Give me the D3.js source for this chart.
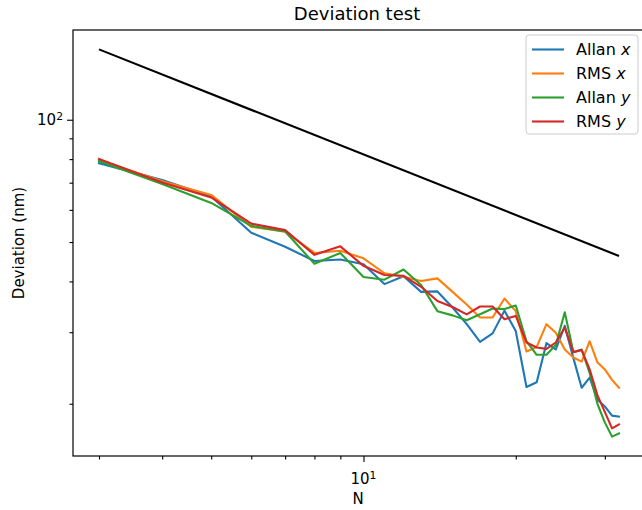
<!DOCTYPE html>
<html>
<head>
<meta charset="utf-8">
<script src="https://cdn.jsdelivr.net/npm/d3@7"></script>
<style>
  body { margin: 0; background: #fff; }
  svg { display: block; font-family: "DejaVu Sans", sans-serif; }
</style>
</head>
<body>
<div id="chart"></div>
<script>
// window sizes
var W = 642, H = 510;
var margin = {left: 73, right: 645, top: 30, bottom: 456};

// data
var nValues = [3, 4, 5, 6, 7, 8, 9, 10, 11, 12, 13, 14, 15, 16, 17, 18, 19, 20, 21, 22, 23, 24, 25, 26, 27, 28, 29, 30, 31, 32];
var allanX = [78.2, 71.1, 64.7, 52.7, 48.7, 44.9, 45.3, 44.1, 39.4, 41.2, 37.7, 37.8, 34.5, 31.4, 28.4, 29.8, 33.9, 30.2, 22.0, 22.6, 28.2, 27.2, 31.1, 25.9, 21.9, 23.2, 20.5, 19.7, 18.7, 18.6];
var rmsX = [79.6, 70.6, 65.3, 54.5, 53.0, 47.0, 47.6, 45.6, 41.9, 41.1, 40.1, 40.7, 37.7, 35.1, 32.6, 32.6, 36.3, 33.8, 26.9, 27.6, 31.4, 29.9, 27.2, 26.0, 25.4, 28.5, 25.3, 24.3, 22.9, 21.9];
var allanY = [79.1, 69.5, 62.4, 54.8, 53.1, 44.2, 47.0, 41.0, 40.4, 42.8, 39.2, 33.8, 33.0, 32.1, 33.2, 34.3, 34.2, 34.9, 28.5, 26.4, 26.4, 27.9, 33.6, 26.8, 27.2, 23.8, 20.0, 18.0, 16.6, 16.9];
var rmsY = [80.1, 70.1, 64.4, 55.5, 53.5, 46.5, 48.8, 43.7, 41.5, 41.3, 38.8, 35.8, 34.6, 33.2, 34.7, 34.7, 32.3, 32.9, 28.3, 27.5, 27.3, 28.3, 30.8, 26.8, 27.1, 24.3, 21.0, 19.1, 17.4, 17.8];
// reference slope line, end points only
var refN = [3, 32];
var refDev = [149, 46.2];

var seriesNames = ["Allan", "RMS", "Allan", "RMS"];
var seriesVars = ["x", "x", "y", "y"];
var seriesColors = ["#1f77b4", "#ff7f0e", "#2ca02c", "#d62728"];
var seriesValues = [allanX, rmsX, allanY, rmsY];

var xMajor = [10];
var xMinor = [3, 4, 5, 6, 7, 8, 9, 20, 30];
var yMajor = [100];
var yMinor = [20, 30, 40, 50, 60, 70, 80, 90];

// log domain with 5% padding like matplotlib
function logPad(lo, hi) {
    var a = Math.log10(lo), b = Math.log10(hi), p = (b - a) * 0.05;
    return [Math.pow(10, a - p), Math.pow(10, b + p)];
}
var allY = d3.merge(seriesValues).concat(refDev);

var x = d3.scaleLog()
    .domain(logPad(d3.min(nValues), d3.max(nValues)))
    .range([margin.left, margin.right]);
var y = d3.scaleLog()
    .domain(logPad(d3.min(allY), d3.max(allY)))
    .range([margin.bottom, margin.top]);

var svg = d3.select("#chart").append("svg")
    .attr("width", W)
    .attr("height", H);

svg.append("rect").attr("width", W).attr("height", H).attr("fill", "#fff");

var line = d3.line()
    .x(function(d) { return x(d[0]); })
    .y(function(d) { return y(d[1]); });

var plot = svg.append("g");

seriesValues.forEach(function(vals, i) {
    plot.append("path")
        .datum(nValues.map(function(n, j) { return [n, vals[j]]; }))
        .attr("d", line)
        .attr("fill", "none")
        .attr("stroke", seriesColors[i])
        .attr("stroke-width", 2.1)
        .attr("stroke-linejoin", "round")
        .attr("stroke-linecap", "square");
});

plot.append("path")
    .datum(refN.map(function(n, j) { return [n, refDev[j]]; }))
    .attr("d", line)
    .attr("fill", "none")
    .attr("stroke", "#000")
    .attr("stroke-width", 2.1);

// axes
function supLabel(sel, base, exp) {
    sel.text(null);
    sel.append("tspan").text(base);
    sel.append("tspan").attr("dy", "-0.45em").attr("font-size", "0.72em").text(exp);
}

var xAxisMajor = d3.axisBottom(x).tickValues(xMajor).tickSize(6).tickPadding(6).tickFormat(function() { return ""; });
var xAxisMinor = d3.axisBottom(x).tickValues(xMinor).tickSize(3.5).tickFormat(function() { return ""; });
var yAxisMajor = d3.axisLeft(y).tickValues(yMajor).tickSize(6).tickPadding(5).tickFormat(function() { return ""; });
var yAxisMinor = d3.axisLeft(y).tickValues(yMinor).tickSize(3.5).tickFormat(function() { return ""; });

[xAxisMinor, xAxisMajor].forEach(function(ax) {
    svg.append("g").attr("transform", "translate(0," + margin.bottom + ")").call(ax)
        .call(function(g) { g.select(".domain").remove(); })
        .selectAll("line").attr("stroke", "#000").attr("stroke-width", 1.1);
});
[yAxisMinor, yAxisMajor].forEach(function(ax) {
    svg.append("g").attr("transform", "translate(" + margin.left + ",0)").call(ax)
        .call(function(g) { g.select(".domain").remove(); })
        .selectAll("line").attr("stroke", "#000").attr("stroke-width", 1.1);
});

// tick labels as 10^n
xMajor.forEach(function(v) {
    svg.append("text")
        .attr("x", x(v)).attr("y", margin.bottom + 28)
        .attr("text-anchor", "middle")
        .attr("font-size", 15)
        .call(supLabel, "10", String(Math.round(Math.log10(v))));
});
yMajor.forEach(function(v) {
    svg.append("text")
        .attr("x", margin.left - 10).attr("y", y(v) + 5)
        .attr("text-anchor", "end")
        .attr("font-size", 15)
        .call(supLabel, "10", String(Math.round(Math.log10(v))));
});

// frame
svg.append("rect")
    .attr("x", margin.left).attr("y", margin.top)
    .attr("width", margin.right - margin.left)
    .attr("height", margin.bottom - margin.top)
    .attr("fill", "none")
    .attr("stroke", "#000")
    .attr("stroke-width", 1.2);

// titles
svg.append("text")
    .attr("x", 357).attr("y", 20)
    .attr("text-anchor", "middle")
    .attr("font-size", 18)
    .text("Deviation test");

svg.append("text")
    .attr("x", 358).attr("y", 504)
    .attr("text-anchor", "middle")
    .attr("font-size", 15)
    .text("N");

svg.append("text")
    .attr("transform", "translate(24," + (margin.top + margin.bottom) / 2 + ")rotate(-90)")
    .attr("text-anchor", "middle")
    .attr("font-size", 15)
    .text("Deviation (nm)");

// legend
var legend = svg.append("g").attr("transform", "translate(526,35)");
legend.append("rect")
    .attr("width", 112).attr("height", 99)
    .attr("rx", 3)
    .attr("fill", "#fff")
    .attr("fill-opacity", 0.8)
    .attr("stroke", "#cccccc");

seriesNames.forEach(function(name, i) {
    var row = legend.append("g").attr("transform", "translate(0," + (14.5 + i * 24) + ")");
    row.append("line")
        .attr("x1", 6).attr("x2", 38)
        .attr("stroke", seriesColors[i])
        .attr("stroke-width", 2.1);
    var t = row.append("text")
        .attr("x", 50).attr("y", 5.5)
        .attr("font-size", 16);
    t.append("tspan").text(name + " ");
    t.append("tspan").attr("font-style", "italic").text(seriesVars[i]);
});
</script>
</body>
</html>
